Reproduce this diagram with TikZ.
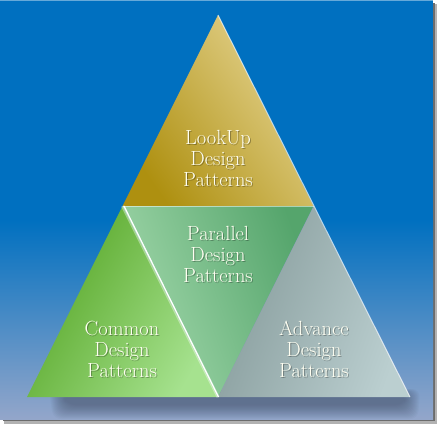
\documentclass[tikz,border=0pt]{standalone}
\usetikzlibrary{calc}
\definecolor{bgblue}{HTML}{0070C0}
\definecolor{bglow}{HTML}{93A6CA}
\definecolor{golddark}{HTML}{AE9010}
\definecolor{goldlight}{HTML}{E6D593}
\definecolor{gdark}{HTML}{55A524}
\definecolor{glight}{HTML}{A6E28F}
\definecolor{mdark}{HTML}{55A56C}
\definecolor{mlight}{HTML}{A2D8AB}
\definecolor{adark}{HTML}{869B9B}
\definecolor{alight}{HTML}{BBCFD0}
\definecolor{txt}{HTML}{FFFFF2}
\definecolor{shd}{HTML}{3A4255}
\tikzset{
  lbl/.style={text=txt, align=center, font=\fontsize{20.5}{21}\selectfont, inner sep=0pt},
  lblsh/.style={text=black, opacity=0.3, align=center, font=\fontsize{20.5}{21}\selectfont, inner sep=0pt},
  hilite/.style={draw=white, line width=1.2pt},
}
\begin{document}
\begin{tikzpicture}[x=1pt,y=-1pt]
\useasboundingbox (0,0) rectangle (437,424);
% frame shadow
\fill[gray!60] (4,4) rectangle (437,424);
\fill[gray!85!black] (3,3) rectangle (435,421);
% background
\fill[bgblue] (0,0) rectangle (433,419);
\shade[top color=bgblue, bottom color=bglow] (0,220) rectangle (433,419);
\draw[white, opacity=0.4, line width=0.6pt] (0,0.5) -- (433,0.5);
% coordinates
\coordinate (A) at (218,15);
\coordinate (L) at (27,397);
\coordinate (R) at (410,397);
\coordinate (ML) at (122.5,206);
\coordinate (MR) at (313.5,206);
\coordinate (MB) at (218,397);
% soft shadow under pyramid
\foreach \i in {0,1,...,14} {
  \fill[shd, opacity=0.04, rounded corners=8pt] ($(L)+(22+\i,-8+0.4*\i)$) -- ($(R)+(10-\i,-8+0.4*\i)$) -- ($(R)+(8-\i,22-\i)$) -- ($(L)+(26+\i,22-\i)$) -- cycle;
}
% triangles
\shade[left color=golddark, right color=goldlight, shading angle=125] (A) -- (MR) -- (ML) -- cycle;
\shade[left color=gdark, right color=glight, shading angle=60] (ML) -- (MB) -- (L) -- cycle;
\shade[left color=mlight, right color=mdark, shading angle=110] (ML) -- (MR) -- (MB) -- cycle;
\shade[left color=adark, right color=alight, shading angle=70] (MR) -- (R) -- (MB) -- cycle;
% highlights
\draw[white, opacity=0.35, line width=3pt] (ML) -- (MB);
\draw[hilite] ($(ML)+(1.5,0)$) -- ($(MB)+(0.5,0)$);
\draw[white, opacity=0.7, line width=1pt] (A) -- (R);
\draw[white, opacity=0.5, line width=0.8pt] (ML) -- (MR);
% labels
\node[lblsh] at (219,159) {LookUp\\Design\\Patterns};
\node[lbl] (look) at (218,158) {LookUp\\Design\\Patterns};
\node[lblsh] at (219,255) {Parallel\\Design\\Patterns};
\node[lbl] (par) at (218,254) {Parallel\\Design\\Patterns};
\node[lblsh] at (123,350) {Common\\Design\\Patterns};
\node[lbl] (com) at (122,349) {Common\\Design\\Patterns};
\node[lblsh] at (315,350) {Advance\\Design\\Patterns};
\node[lbl] (adv) at (314,349) {Advance\\Design\\Patterns};
\end{tikzpicture}
\end{document}
